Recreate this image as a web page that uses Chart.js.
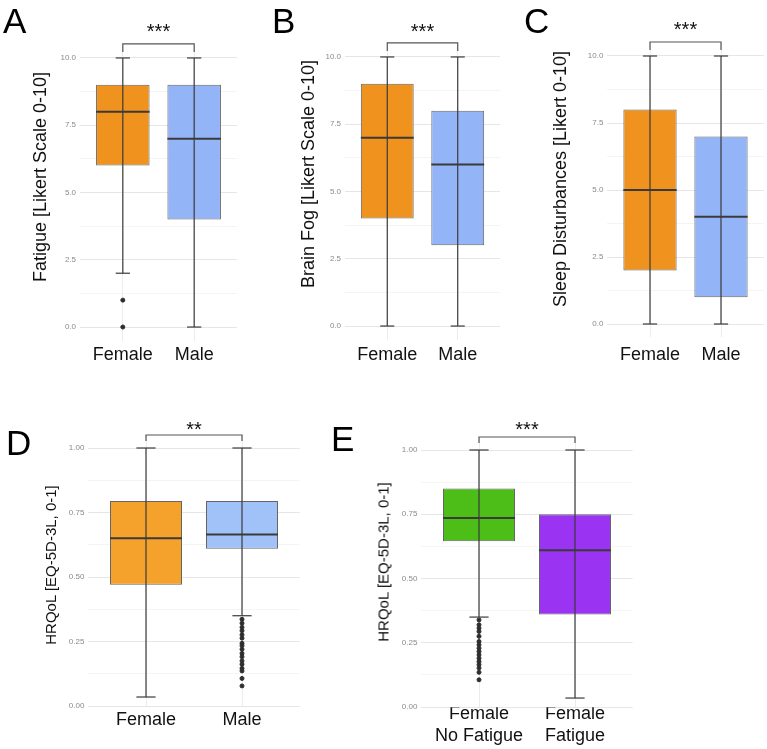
<!DOCTYPE html>
<html>
<head>
<meta charset="utf-8">
<script src="https://cdn.jsdelivr.net/npm/chart.js@4.4.0/dist/chart.umd.min.js"></script>
<style>
  body { margin: 0; background: #fff; width: 767px; height: 749px; position: relative; overflow: hidden;
         font-family: "Liberation Sans", Arial, sans-serif; }
  canvas { position: absolute; }
  .letter { position: absolute; font-size: 35px; line-height: 1; color: #000; }
  .ytitle { position: absolute; width: 320px; text-align: center; white-space: nowrap; line-height: 1;
            color: #111; transform: translate(-50%, -50%) rotate(-90deg); }
</style>
</head>
<body>
<canvas id="chartA" width="250" height="380" style="left:0;top:0"></canvas>
<canvas id="chartB" width="250" height="380" style="left:255px;top:0"></canvas>
<canvas id="chartC" width="257" height="380" style="left:510px;top:0"></canvas>
<canvas id="chartD" width="305" height="369" style="left:0;top:380px"></canvas>
<canvas id="chartE" width="310" height="369" style="left:330px;top:380px"></canvas>

<div class="letter" style="left:3px;top:3px">A</div>
<div class="letter" style="left:272px;top:3px">B</div>
<div class="letter" style="left:524px;top:3px">C</div>
<div class="letter" style="left:6px;top:425px">D</div>
<div class="letter" style="left:331px;top:421px">E</div>

<div class="ytitle" style="left:40px;top:177px;font-size:18px">Fatigue [Likert Scale 0-10]</div>
<div class="ytitle" style="left:308px;top:174px;font-size:18px">Brain Fog [Likert Scale 0-10]</div>
<div class="ytitle" style="left:560px;top:179px;font-size:18px">Sleep Disturbances [Likert 0-10]</div>
<div class="ytitle" style="left:50px;top:565px;font-size:15px">HRQoL [EQ-5D-3L, 0-1]</div>
<div class="ytitle" style="left:383px;top:562px;font-size:15px">HRQoL [EQ-5D-3L, 0-1]</div>

<script>
// Categories
const sexGroups = ['Female', 'Male'];
const fatigueGroups = [['Female', 'No Fatigue'], ['Female', 'Fatigue']];

// Box stats per group: [lower whisker, Q1, median, Q3, upper whisker]
const fatigueStats = [[2, 6, 8, 9, 10], [0, 4, 7, 9, 10]];
const brainFogStats = [[0, 4, 7, 9, 10], [0, 3, 6, 8, 10]];
const sleepStats = [[0, 2, 5, 8, 10], [0, 1, 4, 7, 10]];
const hrqolSexStats = [[0.035, 0.47, 0.65, 0.795, 1.0], [0.35, 0.61, 0.665, 0.795, 1.0]];
const hrqolFatigueStats = [[0.35, 0.645, 0.735, 0.85, 1.0], [0.035, 0.36, 0.61, 0.75, 1.0]];

// Outliers per group
const fatigueOutliers = [[0, 1], []];
const brainFogOutliers = [[], []];
const sleepOutliers = [[], []];
const hrqolSexOutliers = [[], [0.336, 0.321, 0.305, 0.292, 0.276, 0.263, 0.243, 0.234, 0.22, 0.204,
                               0.191, 0.175, 0.162, 0.146, 0.136, 0.107, 0.078]];
const hrqolFatigueOutliers = [[0.339, 0.32, 0.307, 0.294, 0.275, 0.255, 0.242, 0.229, 0.216, 0.203,
                               0.19, 0.177, 0.165, 0.152, 0.135, 0.106], []];

// Y ticks (odd entries are minor grid lines)
const likertTicks = [0, 1.25, 2.5, 3.75, 5, 6.25, 7.5, 8.75, 10];
const likertTickLabels = ['0.0', '', '2.5', '', '5.0', '', '7.5', '', '10.0'];
const hrqolTicks = [0, 0.125, 0.25, 0.375, 0.5, 0.625, 0.75, 0.875, 1];
const hrqolTickLabels = ['0.00', '', '0.25', '', '0.50', '', '0.75', '', '1.00'];

// Significance labels (panels A-E)
const sigStars = ['***', '***', '***', '**', '***'];

// Layout / style per panel
const panels = [
    { id: 'chartA', groups: sexGroups, stats: fatigueStats, outliers: fatigueOutliers,
      colors: ['#F0921E', '#93B4F7'], ticks: likertTicks, tickLabels: likertTickLabels,
      yMin: -0.5, yMax: 10.5, yTop: 10, star: sigStars[0],
      yWidth: 80, xHeight: 39.5, padTop: 44.5, padRight: 13, xPad: 3.7, bracket: [14, 6, 19.6] },
    { id: 'chartB', groups: sexGroups, stats: brainFogStats, outliers: brainFogOutliers,
      colors: ['#F0921E', '#93B4F7'], ticks: likertTicks, tickLabels: likertTickLabels,
      yMin: -0.5, yMax: 10.5, yTop: 10, star: sigStars[1],
      yWidth: 90, xHeight: 40.5, padTop: 43.5, padRight: 5, xPad: 4.7, bracket: [14, 6, 18.6] },
    { id: 'chartC', groups: sexGroups, stats: sleepStats, outliers: sleepOutliers,
      colors: ['#F0921E', '#93B4F7'], ticks: likertTicks, tickLabels: likertTickLabels,
      yMin: -0.5, yMax: 10.5, yTop: 10, star: sigStars[2],
      yWidth: 97.4, xHeight: 42.6, padTop: 42.6, padRight: 3.4, xPad: 6.8, bracket: [14, 6, 19.6] },
    { id: 'chartD', groups: sexGroups, stats: hrqolSexStats, outliers: hrqolSexOutliers,
      colors: ['#F5A22D', '#A0C2F8'], ticks: hrqolTicks, tickLabels: hrqolTickLabels,
      yMin: -0.001, yMax: 1.05, yTop: 1, star: sigStars[3],
      yWidth: 88.4, xHeight: 42.7, padTop: 55.1, padRight: 5.4, xPad: 3, bracket: [13, 7, 11.6] },
    { id: 'chartE', groups: fatigueGroups, stats: hrqolFatigueStats, outliers: hrqolFatigueOutliers,
      colors: ['#4DBD18', '#9A33F2'], ticks: hrqolTicks, tickLabels: hrqolTickLabels,
      yMin: -0.001, yMax: 1.05, yTop: 1, star: sigStars[4],
      yWidth: 91.4, xHeight: 41.7, padTop: 57.15, padRight: 7.4, xPad: -4, bracket: [13, 7, 13.6] }
];

const lineColor = '#3a3a3a';

// Significance bracket with stars above the two boxes
const bracketPlugin = {
    id: 'bracket',
    afterDraw(chart, args, opts) {
        const { ctx, scales: { x, y } } = chart;
        const top = y.getPixelForValue(opts.topValue);
        const x1 = x.getPixelForValue(1);
        const x2 = x.getPixelForValue(2);
        const yb = top - opts.gaps[0];
        ctx.save();
        ctx.strokeStyle = '#555';
        ctx.lineWidth = 1.2;
        ctx.beginPath();
        ctx.moveTo(x1, top - opts.gaps[1]);
        ctx.lineTo(x1, yb);
        ctx.lineTo(x2, yb);
        ctx.lineTo(x2, top - opts.gaps[1]);
        ctx.stroke();
        ctx.fillStyle = '#111';
        ctx.font = '20px "Liberation Sans", Arial, sans-serif';
        ctx.textAlign = 'center';
        ctx.textBaseline = 'alphabetic';
        ctx.fillText(opts.label, (x1 + x2) / 2, top - opts.gaps[2]);
        ctx.restore();
    }
};

function lineSet(points, width) {
    return {
        type: 'line',
        data: points,
        borderColor: lineColor,
        borderWidth: width,
        pointRadius: 0,
        fill: false,
        clip: false,
        order: 1
    };
}

function buildPanel(p) {
    const datasets = [];

    // Boxes (Q1..Q3) as floating bars
    datasets.push({
        type: 'bar',
        data: p.stats.map((s, i) => ({ x: i + 1, y: [s[1], s[3]] })),
        backgroundColor: p.colors,
        borderColor: '#666',
        borderWidth: 1,
        borderSkipped: false,
        categoryPercentage: 1,
        barPercentage: 0.75,
        order: 3
    });

    // Whiskers, caps and medians
    p.stats.forEach((s, i) => {
        const xc = i + 1;
        datasets.push(lineSet([{ x: xc, y: s[0] }, { x: xc, y: s[4] }], 1.2));
        datasets.push(lineSet([{ x: xc - 0.1, y: s[4] }, { x: xc + 0.1, y: s[4] }], 1.2));
        datasets.push(lineSet([{ x: xc - 0.1, y: s[0] }, { x: xc + 0.1, y: s[0] }], 1.2));
        datasets.push(lineSet([{ x: xc - 0.375, y: s[2] }, { x: xc + 0.375, y: s[2] }], 2));
    });

    // Outlier points
    const outPts = [];
    p.outliers.forEach((vals, i) => vals.forEach(v => outPts.push({ x: i + 1, y: v })));
    datasets.push({
        type: 'scatter',
        data: outPts,
        backgroundColor: '#2e2e2e',
        borderColor: '#2e2e2e',
        pointRadius: 2,
        clip: false,
        order: 0
    });

    new Chart(document.getElementById(p.id), {
        type: 'bar',
        data: { datasets: datasets },
        options: {
            responsive: false,
            animation: false,
            layout: { padding: { top: p.padTop, right: p.padRight, left: 0, bottom: 0 } },
            plugins: {
                legend: { display: false },
                tooltip: { enabled: false },
                bracket: { topValue: p.yTop, gaps: p.bracket, label: p.star }
            },
            scales: {
                x: {
                    type: 'linear',
                    offset: false,
                    min: 0.4,
                    max: 2.6,
                    afterBuildTicks: s => { s.ticks = p.groups.map((g, i) => ({ value: i + 1 })); },
                    afterFit: s => { s.height = p.xHeight; },
                    border: { display: false },
                    grid: { offset: false, color: '#ececec', lineWidth: 1, drawTicks: false },
                    ticks: {
                        padding: p.xPad,
                        color: '#111',
                        font: { family: '"Liberation Sans", Arial, sans-serif', size: 18, lineHeight: 1.2 },
                        maxRotation: 0,
                        autoSkip: false,
                        callback: v => p.groups[Math.round(v) - 1]
                    }
                },
                y: {
                    min: p.yMin,
                    max: p.yMax,
                    afterBuildTicks: s => { s.ticks = p.ticks.map(v => ({ value: v })); },
                    afterFit: s => { s.width = p.yWidth; },
                    border: { display: false },
                    grid: {
                        drawTicks: false,
                        color: c => (c.index % 2 ? '#f4f4f4' : '#e6e6e6')
                    },
                    ticks: {
                        padding: 4,
                        color: '#8a8a8a',
                        font: { family: '"Liberation Sans", Arial, sans-serif', size: 8 },
                        callback: (v, i) => p.tickLabels[i]
                    }
                }
            }
        },
        plugins: [bracketPlugin]
    });
}

panels.forEach(buildPanel);
</script>
</body>
</html>
